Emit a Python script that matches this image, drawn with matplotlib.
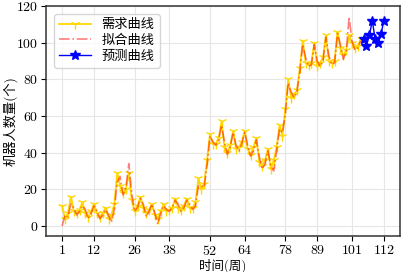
import matplotlib
matplotlib.use("Agg")
import matplotlib.pyplot as plt
import numpy as np

plt.rcParams['font.family'] = ['cmr10', 'Noto Sans CJK SC', 'DejaVu Sans']
plt.rcParams['axes.formatter.use_mathtext'] = True
plt.rcParams['axes.unicode_minus'] = False

weeks_demand = list(range(1, 105))
demand = [11, 4, 7, 16, 8, 7, 9, 13, 7, 5,
          8, 12, 7, 5, 7, 10, 4, 6, 12, 29,
          22, 18, 20, 29, 14, 8, 11, 16, 10, 7,
          9, 12, 6, 4, 8, 12, 8, 9, 10, 15,
          10, 9, 11, 15, 10, 10, 13, 26, 20, 23,
          36, 50, 45, 45, 48, 57, 43, 40, 44, 52,
          42, 43, 46, 52, 42, 39, 43, 48, 35, 33,
          36, 42, 31, 36, 43, 55, 49, 64, 80, 70,
          72, 74, 86, 101, 89, 88, 89, 100, 87, 89,
          92, 104, 90, 89, 90, 106, 97, 93, 96, 104,
          100, 97, 98, 102]
fitted = [0, 6, 5, 12, 10, 6, 8, 11, 9, 4,
          7, 11, 8, 4, 6, 9, 6, 2, 9, 24,
          27, 17, 21, 34, 18, 8, 10, 15, 12, 5,
          8, 12, 7, 1, 7, 11, 9, 8, 10, 14,
          12, 8, 10, 14, 12, 9, 11, 22, 22, 21,
          33, 49, 46, 44, 47, 55, 46, 39, 43, 51,
          44, 41, 45, 51, 44, 38, 41, 47, 38, 31,
          34, 41, 33, 30, 41, 53, 51, 61, 78, 73,
          70, 73, 84, 99, 92, 87, 88, 99, 90, 87,
          90, 103, 93, 88, 89, 105, 99, 91, 95, 114,
          101, 96, 97, 101]
weeks_pred = list(range(105, 113))
predicted = [102, 98.4, 104, 112, 102, 99.6, 104.6, 112]

xticks = [1, 12, 26, 38, 52, 64, 78, 89, 101, 112]
yticks = [0, 20, 40, 60, 80, 100, 120]

fig = plt.figure(figsize=(4.04, 2.72), dpi=100)
ax = fig.add_axes([0.114, 0.132, 0.876, 0.846])

ax.plot(weeks_demand, demand, color='gold', marker='1', markersize=7,
        markeredgewidth=1.0, linewidth=1.3, label='需求曲线')
ax.plot(weeks_demand, fitted, color='red', alpha=0.5, linestyle='-.',
        linewidth=1.2, label='拟合曲线')
ax.plot(weeks_pred, predicted, color='blue', marker='*', markersize=7,
        linewidth=1.0, label='预测曲线')

ax.set_xticks(xticks)
ax.set_yticks(yticks)
ax.set_xlim(-4.55, 117.55)
ax.set_ylim(-5.5, 120)
ax.tick_params(labelsize=10, direction='out', length=3.5, width=0.8, pad=2.0)
ax.grid(True, color='#e6e6e6', linewidth=0.8)
ax.set_axisbelow(True)
for s in ax.spines.values():
    s.set_color('#333333')
    s.set_linewidth(1.1)

ax.set_xlabel('时间(周)', fontsize=9, va='center')
ax.set_ylabel('机器人数量(个)', fontsize=9.5, va='center')
ax.xaxis.set_label_coords(0.5, -0.128)
ax.yaxis.set_label_coords(-0.100, 0.5)

ax.legend(loc='upper left', fontsize=9.5, frameon=True, fancybox=True,
          framealpha=0.8, edgecolor='#cccccc', handlelength=2.4,
          borderpad=0.4, labelspacing=0.25, handletextpad=0.8,
          borderaxespad=0.6)

fig.savefig('out.png', dpi=100)
